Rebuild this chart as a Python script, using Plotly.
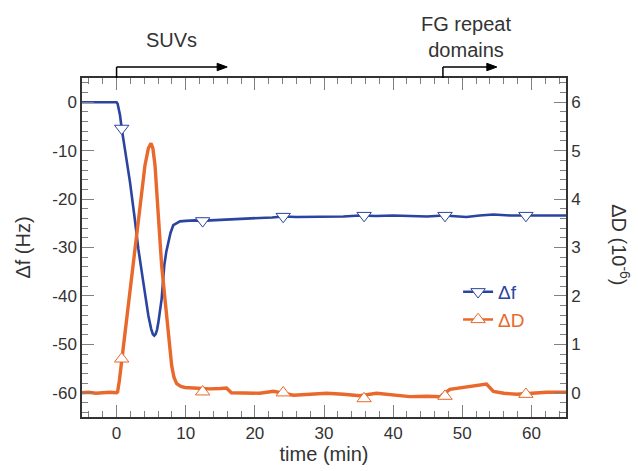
import plotly.graph_objects as go

# ---- data ----
t_f = [-5, -3, -1, 0, 0.15, 0.5, 0.74, 1.22, 1.94, 2.57, 3.15, 3.87, 4.6, 5.0, 5.25, 5.46, 5.65, 5.85,
       6.04, 6.52, 6.9, 7.2, 7.48, 7.8, 8.2, 8.7, 9.17, 10, 11.3, 12.1, 14, 15.9, 18, 20.7, 22.5,
       24.1, 26, 28, 30, 32.8, 35.2, 37.5, 40, 42.5, 44.9, 47.3, 49, 50.6, 52.5, 54.5, 57, 59.3,
       62, 64.1, 65]
delta_f = [0, 0.05, 0, 0, -0.3, -2.7, -5.4, -9.6, -16.5, -23.4, -30.3, -37.2, -44.1, -46.8, -47.9,
           -48.2, -47.9, -47.0, -45.5, -40.6, -33.7, -30.8, -28.9, -27.0, -25.4, -24.9, -24.6,
           -24.5, -24.4, -24.5, -24.4, -24.3, -24.1, -23.9, -23.8, -23.6, -23.7, -23.7, -23.6,
           -23.6, -23.4, -23.5, -23.4, -23.5, -23.6, -23.4, -23.5, -23.7, -23.4, -23.2, -23.4,
           -23.4, -23.3, -23.4, -23.4]

t_d = [-5, -4, -3, -2, -1, 0, 0.15, 0.4, 0.74, 1.22, 1.7, 2.28, 2.91, 3.53, 4.11, 4.6, 4.98, 5.25,
       5.56, 6.04, 6.52, 7.0, 7.48, 7.97, 8.3, 8.69, 9.3, 9.9, 11.1, 12.5, 13.5, 15, 15.9, 16.6, 18.3,
       20.7, 22.7, 24, 25.6, 28, 30.4, 32.8, 35.2, 37.6, 40, 42.4, 44.9, 46.8, 48.2, 49.7, 51.6, 53.5,
       54.5, 56, 57.9, 60.3, 62.2, 65]
delta_d = [0.0, 0.01, -0.01, 0.0, 0.01, 0.0, 0.02, 0.25, 0.66, 1.25, 1.94, 2.63, 3.32, 4.01, 4.70,
           5.05, 5.15, 5.05, 4.70, 3.66, 2.63, 1.94, 1.25, 0.56, 0.32, 0.19, 0.13, 0.11, 0.10, 0.09,
           0.08, 0.09, 0.10, 0.0, -0.01, -0.01, 0.03, 0.0, -0.05, -0.03, -0.01, -0.03, -0.06, -0.01,
           -0.05, -0.08, -0.07, -0.08, 0.07, 0.10, 0.14, 0.18, 0.03, -0.01, -0.03, 0.0, 0.01, 0.01]

t_markers = [0.74, 12.45, 24.1, 35.8, 47.5, 59.2]
f_markers = [-5.4, -24.5, -23.6, -23.4, -23.4, -23.4]
d_markers = [0.70, 0.02, 0.0, -0.12, -0.07, -0.03]

x_ticks = [0, 10, 20, 30, 40, 50, 60]
yl_ticks = [-60, -50, -40, -30, -20, -10, 0]
yl_text = ["-60", "-50", "-40", "-30", "-20", "-10", "0"]
yr_ticks = [0, 1, 2, 3, 4, 5, 6]

# injection events: (start time, arrow end time)
injections = [(0, 16), (47.2, 55)]

BLUE = "#2a44a0"
ORANGE = "#e8692b"
FONT = "Liberation Sans, Arial, sans-serif"
TXT = "#333333"
TICKC = "#808080"

fig = go.Figure()
fig.add_trace(go.Scatter(x=t_f, y=delta_f, mode="lines", line=dict(color=BLUE, width=2.6),
                         showlegend=False, yaxis="y"))
fig.add_trace(go.Scatter(x=t_d, y=delta_d, mode="lines", line=dict(color=ORANGE, width=3.4),
                         showlegend=False, yaxis="y2"))
fig.add_trace(go.Scatter(x=t_markers, y=f_markers, mode="markers", yaxis="y",
                         marker=dict(symbol="triangle-down", size=12.5, color="white",
                                     line=dict(color=BLUE, width=1)), showlegend=False))
fig.add_trace(go.Scatter(x=t_markers, y=d_markers, mode="markers", yaxis="y2",
                         marker=dict(symbol="triangle-up", size=12.5, color="white",
                                     line=dict(color=ORANGE, width=1)), showlegend=False))
# legend entries
fig.add_trace(go.Scatter(x=[None], y=[None], mode="lines+markers", yaxis="y",
                         name=f"<span style='color:{BLUE}'>Δf</span>",
                         line=dict(color=BLUE, width=2.5),
                         marker=dict(symbol="triangle-down", size=12.5, color="white",
                                     line=dict(color=BLUE, width=1))))
fig.add_trace(go.Scatter(x=[None], y=[None], mode="lines+markers", yaxis="y2",
                         name=f"<span style='color:{ORANGE}'>ΔD</span>",
                         line=dict(color=ORANGE, width=2.5),
                         marker=dict(symbol="triangle-up", size=12.5, color="white",
                                     line=dict(color=ORANGE, width=1))))

fig.update_layout(
    width=638, height=471,
    margin=dict(l=82, r=72, t=78, b=54),
    paper_bgcolor="white", plot_bgcolor="white",
    font=dict(family=FONT, size=17, color=TXT),
    xaxis=dict(range=[-5, 65], tickmode="array", tickvals=x_ticks, ticks="inside", ticklen=12,
               tickwidth=1, tickcolor=TICKC, showline=True, linecolor="#333", linewidth=1.5,
               mirror="ticks", showgrid=False, zeroline=False, automargin=False,
               title=dict(text="time (min)", font=dict(size=20), standoff=5),
               minor=dict(tickmode="linear", tick0=0, dtick=2, ticks="inside", ticklen=6,
                          tickcolor=TICKC, showgrid=False)),
    yaxis=dict(range=[-65, 5], tickmode="array", tickvals=yl_ticks, ticktext=yl_text,
               ticks="inside", ticklen=12, tickwidth=1, tickcolor=TICKC, showline=True,
               linecolor="#333", linewidth=1.5, showgrid=False, zeroline=False, automargin=False,
               title=dict(text="Δf (Hz)", font=dict(size=20), standoff=16),
               minor=dict(tickmode="linear", tick0=0, dtick=2, ticks="inside", ticklen=6,
                          tickcolor=TICKC, showgrid=False)),
    yaxis2=dict(range=[-0.5, 6.5], overlaying="y", side="right", tickmode="array",
                tickvals=yr_ticks, ticks="inside", ticklen=12, tickwidth=1, tickcolor=TICKC,
                showline=True, linecolor="#333", linewidth=1.5, showgrid=False, zeroline=False,
                minor=dict(tickmode="linear", tick0=0, dtick=0.2, ticks="inside", ticklen=6,
                           tickcolor=TICKC, showgrid=False)),
    legend=dict(x=0.777, y=0.425, xanchor="left", yanchor="top", bgcolor="rgba(0,0,0,0)",
                font=dict(size=19, family=FONT), tracegroupgap=0),
    showlegend=True,
)

# right axis title (reads top to bottom as in the reference)
fig.add_annotation(text="ΔD (10<sup>-6</sup>)", x=1.1136, y=0.507, xref="paper", yref="paper",
                   showarrow=False, font=dict(size=20), textangle=90,
                   xanchor="center", yanchor="middle")

# injection labels
fig.add_annotation(text="SUVs", x=8, y=1.112, xref="x", yref="paper", showarrow=False,
                   font=dict(size=20), xanchor="center", yanchor="middle")
fig.add_annotation(text="FG repeat<br>domains", x=50.5, y=1.121, xref="x", yref="paper",
                   showarrow=False, font=dict(size=20), xanchor="center", yanchor="middle")

# injection arrows (bracket + arrow head drawn as shapes)
ARROW_Y = 1.0324
HEAD_LEN = 1.45   # minutes (~10 px)
HEAD_HALF = 0.011  # paper (~3.7 px)
for x0, x1 in injections:
    fig.add_shape(type="line", xref="x", yref="paper", x0=x0, x1=x0, y0=1.0, y1=ARROW_Y,
                  line=dict(color="black", width=1.5))
    fig.add_shape(type="line", xref="x", yref="paper", x0=x0, x1=x1 - HEAD_LEN * 0.6,
                  y0=ARROW_Y, y1=ARROW_Y, line=dict(color="black", width=1.5))
    fig.add_shape(type="path", xref="x", yref="paper",
                  path=(f"M{x1 - HEAD_LEN},{ARROW_Y + HEAD_HALF} L{x1},{ARROW_Y} "
                        f"L{x1 - HEAD_LEN},{ARROW_Y - HEAD_HALF} Z"),
                  fillcolor="black", line=dict(color="black", width=1))

fig.write_html("out.html")
